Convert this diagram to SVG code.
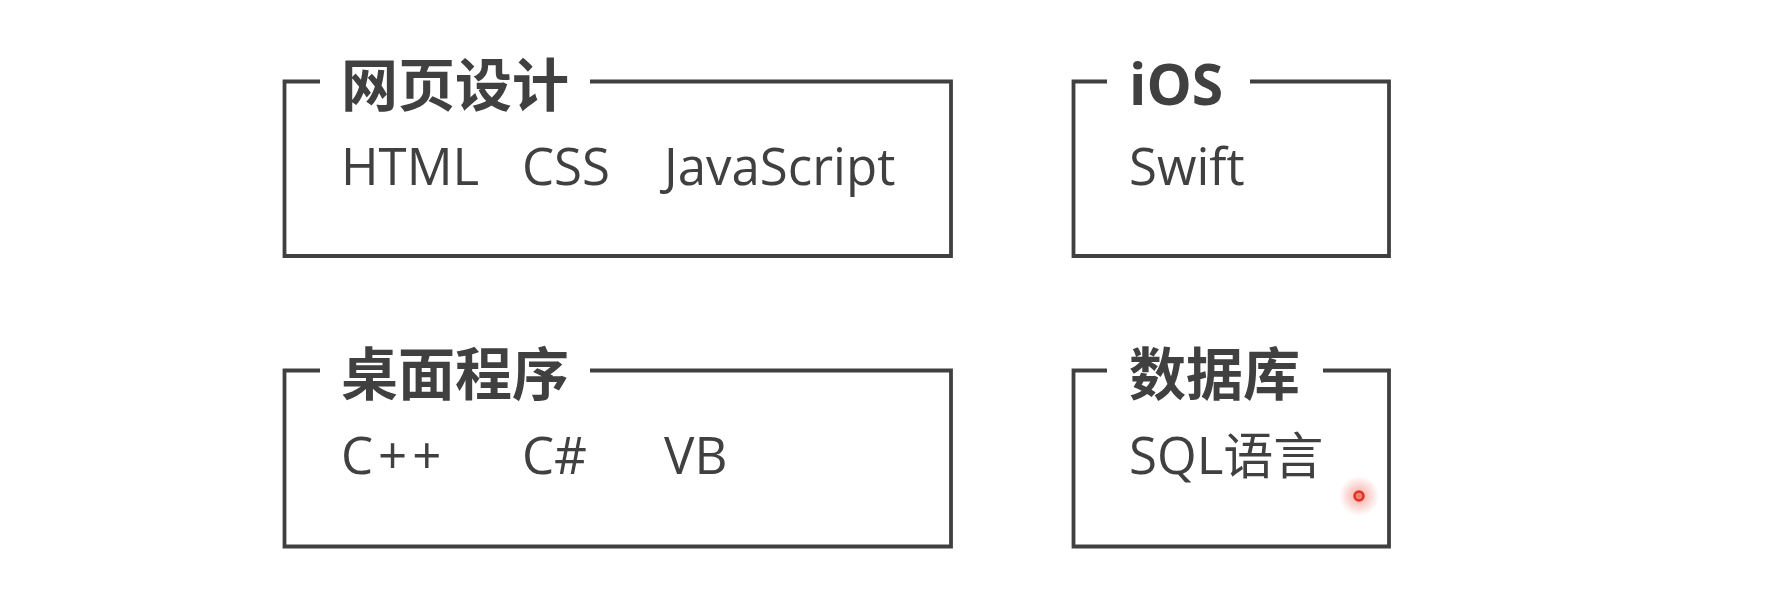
<svg xmlns="http://www.w3.org/2000/svg" width="1779" height="596" viewBox="0 0 1779 596">
  <defs>
    <style>
      .frame { fill: none; stroke: #404040; stroke-width: 3.8; stroke-linejoin: miter; stroke-linecap: butt; }
      .title { font-family: "Open Sans", "Noto Sans CJK SC", sans-serif; font-weight: bold; font-size: 57px; fill: #404040; }
      .body { font-family: "Open Sans", "Noto Sans CJK SC", sans-serif; font-size: 51px; fill: #404040; }
    </style>
    <radialGradient id="glow">
      <stop offset="0" stop-color="#f05040" stop-opacity="0.5"/>
      <stop offset="1" stop-color="#f05040" stop-opacity="0"/>
    </radialGradient>
  </defs>
  <rect width="1779" height="596" fill="#ffffff"/>

  <g id="web">
    <path class="frame" d="M320,81.5 H284.5 V256 H951 V81.5 H590"/>
    <text class="title" x="341" y="106">网页设计</text>
    <text class="body" x="341" y="185">HTML</text>
    <text class="body" x="522" y="185">CSS</text>
    <text class="body" x="664" y="185">JavaScript</text>
  </g>

  <g id="ios">
    <path class="frame" d="M1107,81.5 H1073.5 V256 H1389 V81.5 H1250"/>
    <text class="title" x="1129" y="105" font-size="59">iOS</text>
    <text class="body" x="1129" y="185">Swift</text>
  </g>

  <g id="desktop">
    <path class="frame" d="M320,370.5 H284.5 V546.5 H951 V370.5 H590"/>
    <text class="title" x="341" y="395">桌面程序</text>
    <text class="body" x="341" y="474" letter-spacing="5">C++</text>
    <text class="body" x="522" y="474">C#</text>
    <text class="body" x="664" y="474">VB</text>
  </g>

  <g id="database">
    <path class="frame" d="M1107,370.5 H1073.5 V546.5 H1389 V370.5 H1323"/>
    <text class="title" x="1129" y="395">数据库</text>
    <text class="body" x="1129" y="474">SQL<tspan font-size="50">语言</tspan></text>
  </g>

  <g id="connectors"></g>

  <g id="cursor">
    <circle cx="1359" cy="496" r="20" fill="url(#glow)"/>
    <circle cx="1359" cy="496" r="4.5" fill="#f08070" stroke="#e03020" stroke-width="2.5"/>
  </g>
</svg>
